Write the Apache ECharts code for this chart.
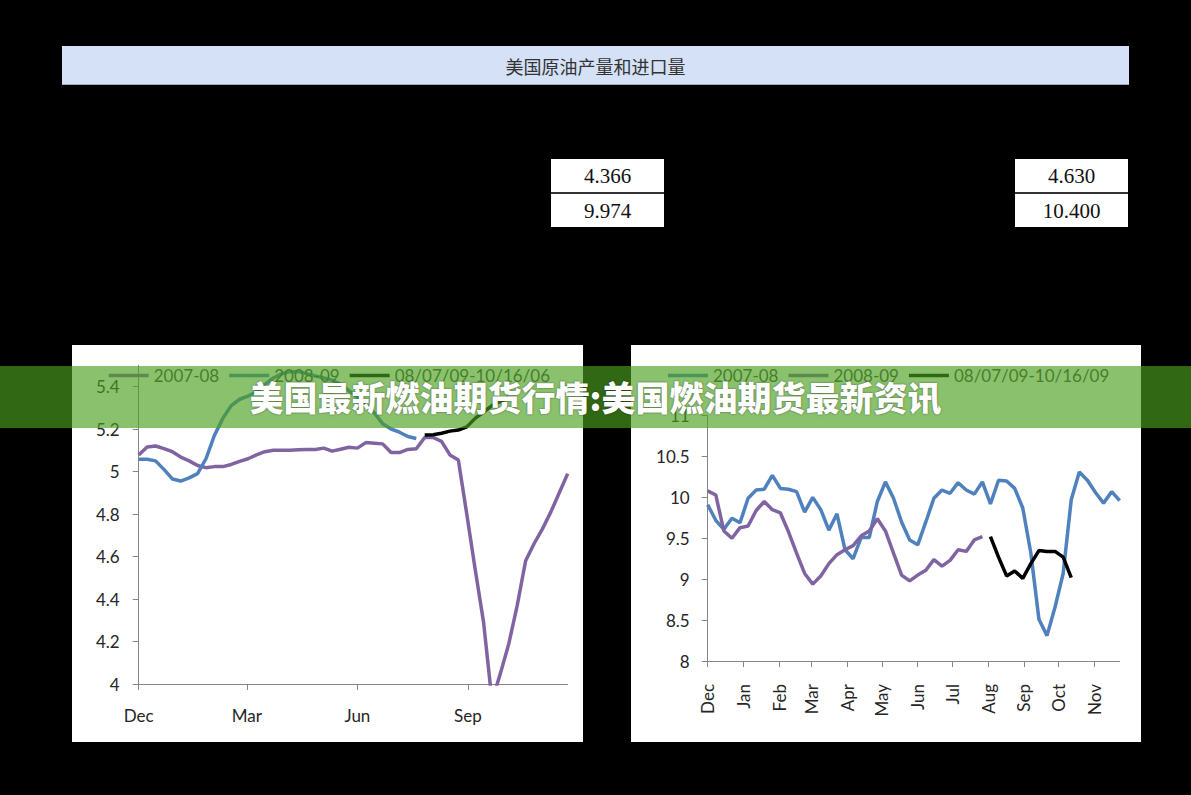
<!DOCTYPE html>
<html>
<head>
<meta charset="utf-8">
<script src="https://cdn.jsdelivr.net/npm/echarts@6/dist/echarts.min.js"></script>
<style>
  html, body { margin: 0; padding: 0; background: #000; }
  #page { position: relative; width: 1191px; height: 795px; background: #000; overflow: hidden; }
  #header { position: absolute; left: 62px; top: 46px; width: 1067px; height: 38px;
    background: #D4E1F6; border-bottom: 1px solid #9AA8C0; text-align: center; line-height: 40px;
    font-family: "Noto Sans CJK SC", sans-serif; font-size: 18px; color: #333; }
  .tbl { position: absolute; top: 159px; width: 113px; height: 68px; background: #fff;
    font-family: "Liberation Serif", serif; font-size: 21px; color: #111; text-align: center; }
  .tbl .r1 { height: 33px; line-height: 35px; border-bottom: 2px solid #333; }
  .tbl .r2 { height: 33px; line-height: 35px; }
  .panel { position: absolute; top: 345px; height: 397px; background: #fff; }
  #banner { position: absolute; left: 0; top: 366px; width: 1191px; height: 62px;
    background: rgba(75,160,30,0.65); text-align: center; line-height: 62px;
    font-family: "Noto Sans CJK SC", sans-serif; font-weight: 900; font-size: 34px; color: #fff;
    text-shadow: 0 0 2px rgba(0,0,0,0.55); z-index: 10; }
</style>
</head>
<body>
<div id="page">
  <div id="header"></div>
  <div class="tbl" id="tblL" style="left:551px"><div class="r1"></div><div class="r2"></div></div>
  <div class="tbl" id="tblR" style="left:1015px"><div class="r1"></div><div class="r2"></div></div>
  <div class="panel" id="chartL" style="left:72px;width:511px"></div>
  <div class="panel" id="chartR" style="left:631px;width:510px"></div>
  <div id="banner"></div>
</div>
<script>
// ---- texts ----
const headerTitle = '美国原油产量和进口量';
const bannerTitle = '美国最新燃油期货行情:美国燃油期货最新资讯';
const tableLeft = ['4.366', '9.974'];
const tableRight = ['4.630', '10.400'];

// ---- left chart (weekly points, week 0 = Dec 1) ----
const leftNames = ['2007-08', '2008-09', '08/07/09-10/16/06'];
const leftMonthLabels = ['Dec', 'Mar', 'Jun', 'Sep'];
const leftMonthDays = [0, 90, 182, 274];
const leftYTicks = [4, 4.2, 4.4, 4.6, 4.8, 5, 5.2, 5.4];
const left2007 = [5.078, 5.115, 5.12, 5.108, 5.093, 5.068, 5.05, 5.028, 5.018, 5.023,
  5.023, 5.033, 5.048, 5.06, 5.078, 5.093, 5.10, 5.10, 5.10, 5.102,
  5.104, 5.104, 5.11, 5.096, 5.105, 5.114, 5.11, 5.136, 5.133, 5.13,
  5.089, 5.089, 5.104, 5.107, 5.16, 5.16, 5.142, 5.078, 5.054, 4.80,
  4.54, 4.29, 3.92, 4.05, 4.19, 4.37, 4.58, 4.66, 4.73, 4.81,
  4.90, 4.99];
const left2008 = [5.058, 5.058, 5.05, 5.01, 4.965, 4.955, 4.97, 4.99, 5.06, 5.17,
  5.25, 5.31, 5.34, 5.355, 5.375, 5.41, 5.44, 5.46, 5.47, 5.47,
  5.46, 5.45, 5.44, 5.43, 5.41, 5.38, 5.35, 5.31, 5.276, 5.225,
  5.20, 5.185, 5.165, 5.155];
const leftRecentStart = 34;
const leftRecent = [5.172, 5.173, 5.18, 5.19, 5.195, 5.21, 5.25, 5.28, 5.31, 5.33, 5.35];

// ---- right chart ----
const rightNames = ['2007-08', '2008-09', '08/07/09-10/16/09'];
const rightMonthLabels = ['Dec', 'Jan', 'Feb', 'Mar', 'Apr', 'May', 'Jun', 'Jul', 'Aug', 'Sep', 'Oct', 'Nov'];
const rightMonthDays = [0, 31, 62, 90, 121, 151, 182, 212, 243, 274, 304, 335];
const right2007 = [9.91, 9.72, 9.61, 9.745, 9.69, 9.99, 10.09, 10.10, 10.27, 10.11,
  10.10, 10.07, 9.82, 10.00, 9.85, 9.60, 9.80, 9.36, 9.25, 9.51,
  9.51, 9.95, 10.19, 9.99, 9.70, 9.48, 9.42, 9.70, 9.99, 10.09,
  10.05, 10.18, 10.09, 10.04, 10.19, 9.92, 10.21, 10.20, 10.11, 9.87,
  9.32, 8.51, 8.31, 8.66, 9.07, 9.97, 10.31, 10.21, 10.06, 9.93,
  10.07, 9.96];
const right2008 = [10.08, 10.03, 9.59, 9.50, 9.63, 9.65, 9.84, 9.95, 9.85, 9.81,
  9.58, 9.32, 9.07, 8.94, 9.04, 9.19, 9.30, 9.36, 9.41, 9.53,
  9.59, 9.74, 9.59, 9.32, 9.05, 8.98, 9.05, 9.11, 9.24, 9.16,
  9.23, 9.36, 9.34, 9.48, 9.52];
const rightRecentStart = 35;
const rightRecent = [9.52, 9.27, 9.04, 9.10, 9.01, 9.19, 9.35, 9.34, 9.34, 9.27, 9.02];

// ---- static texts ----
document.getElementById('header').textContent = headerTitle;
document.getElementById('banner').textContent = bannerTitle;
document.querySelector('#tblL .r1').textContent = tableLeft[0];
document.querySelector('#tblL .r2').textContent = tableLeft[1];
document.querySelector('#tblR .r1').textContent = tableRight[0];
document.querySelector('#tblR .r2').textContent = tableRight[1];

const PURPLE = '#8064A2', BLUE = '#4F81BD', BLACK = '#000000';
const FONT = 'Lato';
const LABEL_COLOR = '#262626';
const AXIS_COLOR = '#868686';

function toPoints(arr, start) { return arr.map((v, i) => [start + i, v]); }
function lineSeries(name, data, color) {
  return { type: 'line', name, data, symbol: 'none', smooth: false,
    lineStyle: { color, width: 3.5 }, itemStyle: { color }, clip: true };
}
function axisLine() { return { show: true, lineStyle: { color: AXIS_COLOR, width: 1 } }; }

function legendCfg(names, left) {
  return { left, top: 22, padding: 0, icon: 'rect', itemWidth: 40, itemHeight: 3.5, itemGap: 10,
    data: names, textStyle: { fontFamily: FONT, fontSize: 17, color: '#404040' } };
}

// Left chart
const leftTickWeeks = leftMonthDays.map(d => d / 7);
const chartL = echarts.init(document.getElementById('chartL'), null, { renderer: 'svg' });
chartL.setOption({
  animation: false,
  backgroundColor: '#fff',
  legend: legendCfg(leftNames, 36.7),
  grid: { left: 66.7, top: 20.25, width: 429, height: 318.75, containLabel: false },
  xAxis: {
    type: 'value', min: 0, max: 51,
    axisLine: axisLine(),
    axisTick: { show: true, length: 6, lineStyle: { color: AXIS_COLOR }, customValues: leftTickWeeks },
    axisLabel: { customValues: leftTickWeeks, margin: 23, fontFamily: FONT, fontSize: 17, color: LABEL_COLOR,
      formatter: v => { const i = leftTickWeeks.findIndex(t => Math.abs(t - v) < 1e-6); return i >= 0 ? leftMonthLabels[i] : ''; } },
    splitLine: { show: false }
  },
  yAxis: {
    type: 'value', min: 4, max: 5.5,
    axisLine: axisLine(),
    axisTick: { show: true, length: 6, lineStyle: { color: AXIS_COLOR }, customValues: leftYTicks },
    axisLabel: { customValues: leftYTicks, margin: 19, fontFamily: FONT, fontSize: 17, color: LABEL_COLOR },
    splitLine: { show: false }
  },
  series: [
    lineSeries(leftNames[0], toPoints(left2007, 0), PURPLE),
    lineSeries(leftNames[1], toPoints(left2008, 0), BLUE),
    lineSeries(leftNames[2], toPoints(leftRecent, leftRecentStart), BLACK)
  ]
});

// Right chart
const rightTickWeeks = rightMonthDays.map(d => d / 7);
const chartR = echarts.init(document.getElementById('chartR'), null, { renderer: 'svg' });
chartR.setOption({
  animation: false,
  backgroundColor: '#fff',
  legend: legendCfg(rightNames, 37),
  grid: { left: 76.7, top: 70.6, width: 412, height: 245.4, containLabel: false },
  xAxis: {
    type: 'value', min: 0, max: 51,
    axisLine: axisLine(),
    axisTick: { show: true, length: 6, lineStyle: { color: AXIS_COLOR }, customValues: rightTickWeeks },
    axisLabel: { customValues: rightTickWeeks, rotate: 90, margin: 23, fontFamily: FONT, fontSize: 17, color: LABEL_COLOR,
      formatter: v => { const i = rightTickWeeks.findIndex(t => Math.abs(t - v) < 1e-6); return i >= 0 ? rightMonthLabels[i] : ''; } },
    splitLine: { show: false }
  },
  yAxis: {
    type: 'value', min: 8, max: 11, interval: 0.5,
    axisLine: axisLine(),
    axisTick: { show: true, length: 6, lineStyle: { color: AXIS_COLOR } },
    axisLabel: { margin: 18, fontFamily: FONT, fontSize: 17, color: LABEL_COLOR },
    splitLine: { show: false }
  },
  series: [
    lineSeries(rightNames[0], toPoints(right2007, 0), BLUE),
    lineSeries(rightNames[1], toPoints(right2008, 0), PURPLE),
    lineSeries(rightNames[2], toPoints(rightRecent, rightRecentStart), BLACK)
  ]
});
</script>
</body>
</html>
